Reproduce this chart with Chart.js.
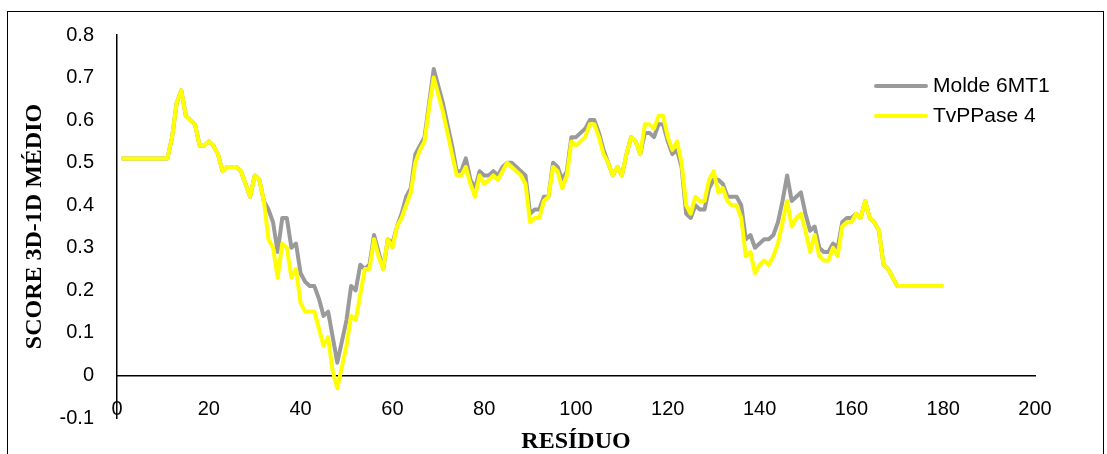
<!DOCTYPE html>
<html>
<head>
<meta charset="utf-8">
<script src="https://cdn.jsdelivr.net/npm/chart.js@4/dist/chart.umd.min.js"></script>
<style>
  html, body { margin: 0; padding: 0; background: #fff; }
  #wrap { width: 1107px; height: 454px; position: relative; }
</style>
</head>
<body>
<div id="wrap"><canvas id="grafico" width="1107" height="454"></canvas></div>
<script>
// residue numbers 1..180
var residuos = [];
for (var i = 1; i <= 180; i++) residuos.push(i);

// Molde 6MT1 (grey)
var molde6MT1 = [
  0.51,0.51,0.51,0.51,0.51,0.51,0.51,0.51,0.51,0.51,
  0.51,0.56,0.64,0.67,0.61,0.60,0.59,0.54,0.54,0.55,
  0.54,0.52,0.48,0.49,0.49,0.49,0.48,0.45,0.42,0.47,
  0.46,0.41,0.39,0.36,0.29,0.37,0.37,0.30,0.31,0.24,
  0.22,0.21,0.21,0.18,0.14,0.15,0.09,0.03,0.08,0.13,
  0.21,0.20,0.26,0.25,0.26,0.33,0.29,0.25,0.32,0.31,
  0.35,0.38,0.42,0.44,0.52,0.54,0.56,0.64,0.72,0.68,
  0.64,0.59,0.54,0.48,0.48,0.51,0.46,0.44,0.48,0.47,
  0.47,0.48,0.47,0.49,0.50,0.50,0.49,0.48,0.47,0.38,
  0.39,0.39,0.42,0.42,0.50,0.49,0.46,0.48,0.56,0.56,
  0.57,0.58,0.60,0.60,0.57,0.53,0.50,0.47,0.49,0.47,
  0.52,0.56,0.55,0.52,0.57,0.57,0.56,0.59,0.59,0.55,
  0.52,0.53,0.49,0.38,0.37,0.40,0.39,0.39,0.44,0.46,
  0.46,0.45,0.42,0.42,0.42,0.40,0.32,0.33,0.30,0.31,
  0.32,0.32,0.33,0.36,0.41,0.47,0.41,0.42,0.43,0.38,
  0.34,0.35,0.30,0.29,0.29,0.31,0.30,0.36,0.37,0.37,
  0.38,0.37,0.41,0.37,0.36,0.34,0.26,0.25,0.23,0.21,
  0.21,0.21,0.21,0.21,0.21,0.21,0.21,0.21,0.21,0.21
];

// TvPPase 4 (yellow)
var tvPPase4 = [
  0.51,0.51,0.51,0.51,0.51,0.51,0.51,0.51,0.51,0.51,
  0.51,0.56,0.64,0.67,0.61,0.60,0.59,0.54,0.54,0.55,
  0.54,0.52,0.48,0.49,0.49,0.49,0.48,0.45,0.42,0.47,
  0.46,0.41,0.32,0.30,0.23,0.31,0.30,0.23,0.25,0.17,
  0.15,0.15,0.15,0.11,0.07,0.09,0.01,-0.03,0.02,0.07,
  0.14,0.13,0.19,0.25,0.25,0.32,0.28,0.25,0.32,0.30,
  0.35,0.37,0.40,0.43,0.50,0.53,0.55,0.63,0.70,0.66,
  0.62,0.57,0.52,0.47,0.47,0.49,0.45,0.42,0.47,0.45,
  0.46,0.47,0.46,0.48,0.50,0.49,0.48,0.47,0.45,0.36,
  0.37,0.37,0.41,0.42,0.49,0.48,0.44,0.47,0.55,0.54,
  0.55,0.56,0.59,0.59,0.56,0.52,0.50,0.47,0.49,0.47,
  0.52,0.56,0.55,0.52,0.59,0.59,0.58,0.61,0.61,0.56,
  0.53,0.55,0.50,0.40,0.38,0.42,0.41,0.41,0.46,0.48,
  0.43,0.44,0.41,0.40,0.40,0.37,0.28,0.29,0.24,0.26,
  0.27,0.26,0.28,0.31,0.36,0.41,0.35,0.37,0.38,0.34,
  0.29,0.33,0.28,0.27,0.27,0.30,0.28,0.35,0.36,0.36,
  0.38,0.37,0.41,0.37,0.36,0.34,0.26,0.25,0.23,0.21,
  0.21,0.21,0.21,0.21,0.21,0.21,0.21,0.21,0.21,0.21
];

var nomesSeries = ['Molde 6MT1', 'TvPPase 4'];
var coresSeries = ['#9a9a9a', '#ffff00'];

function pontos(valores) {
  return valores.map(function (v, k) { return { x: residuos[k], y: v }; });
}

// frame around the whole chart
var moldura = {
  id: 'moldura',
  beforeDraw: function (chart) {
    var c = chart.ctx;
    c.save();
    c.strokeStyle = '#000';
    c.lineWidth = 1;
    c.strokeRect(7.5, 11.5, 1096, 500);
    c.restore();
  }
};

// legend drawn inside the plot area, top right
var legenda = {
  id: 'legenda',
  afterDraw: function (chart) {
    var c = chart.ctx;
    c.save();
    c.font = '21px "Liberation Sans", Arial, sans-serif';
    c.textBaseline = 'middle';
    c.fillStyle = '#000';
    chart.data.datasets.forEach(function (ds, k) {
      var y = 86 + k * 30;
      c.strokeStyle = ds.borderColor;
      c.lineWidth = 4;
      c.lineCap = 'round';
      c.beginPath();
      c.moveTo(876, y);
      c.lineTo(926, y);
      c.stroke();
      c.fillText(ds.label, 933, y);
    });
    c.restore();
  }
};

var config = {
  type: 'line',
  data: {
    datasets: [{
      label: nomesSeries[0],
      data: pontos(molde6MT1),
      borderColor: coresSeries[0],
      borderWidth: 4,
      pointRadius: 0,
      tension: 0,
      borderJoinStyle: 'round',
      order: 2
    }, {
      label: nomesSeries[1],
      data: pontos(tvPPase4),
      borderColor: coresSeries[1],
      borderWidth: 4,
      pointRadius: 0,
      tension: 0,
      borderJoinStyle: 'round',
      order: 1
    }]
  },
  options: {
    responsive: false,
    animation: false,
    layout: { padding: { left: 8, top: 32, right: 72, bottom: 0 } },
    plugins: {
      legend: { display: false },
      tooltip: { enabled: false },
      title: {
        display: true,
        text: 'RESÍDUO',
        position: 'bottom',
        fullSize: false,
        color: '#000',
        font: { family: '"Liberation Serif", "Times New Roman", serif', size: 24, weight: 'bold', lineHeight: 1 },
        padding: { top: 12, bottom: 0 }
      }
    },
    scales: {
      x: {
        type: 'linear',
        position: { y: 0 },
        min: 0,
        max: 200,
        grid: { display: false, drawTicks: false },
        border: { display: true, color: '#000', width: 1.5 },
        ticks: {
          stepSize: 20,
          padding: 22,
          color: '#000',
          maxRotation: 0,
          font: { family: '"Liberation Sans", Arial, sans-serif', size: 20 }
        }
      },
      y: {
        position: 'left',
        min: -0.1,
        max: 0.8,
        grid: { display: false, drawTicks: false },
        border: { display: true, color: '#000', width: 1.5 },
        ticks: {
          stepSize: 0.1,
          padding: 23,
          color: '#000',
          font: { family: '"Liberation Sans", Arial, sans-serif', size: 20 }
        },
        title: {
          display: true,
          text: 'SCORE 3D-1D MÉDIO',
          color: '#000',
          font: { family: '"Liberation Serif", "Times New Roman", serif', size: 24, weight: 'bold', lineHeight: 1 },
          padding: { top: 15, bottom: 0 }
        },
        afterFit: function (scale) { scale.width = 109; }
      }
    }
  },
  plugins: [moldura, legenda]
};

window.onload = function () {
  var ctx = document.getElementById('grafico').getContext('2d');
  window.meuGrafico = new Chart(ctx, config);
};
</script>
</body>
</html>
